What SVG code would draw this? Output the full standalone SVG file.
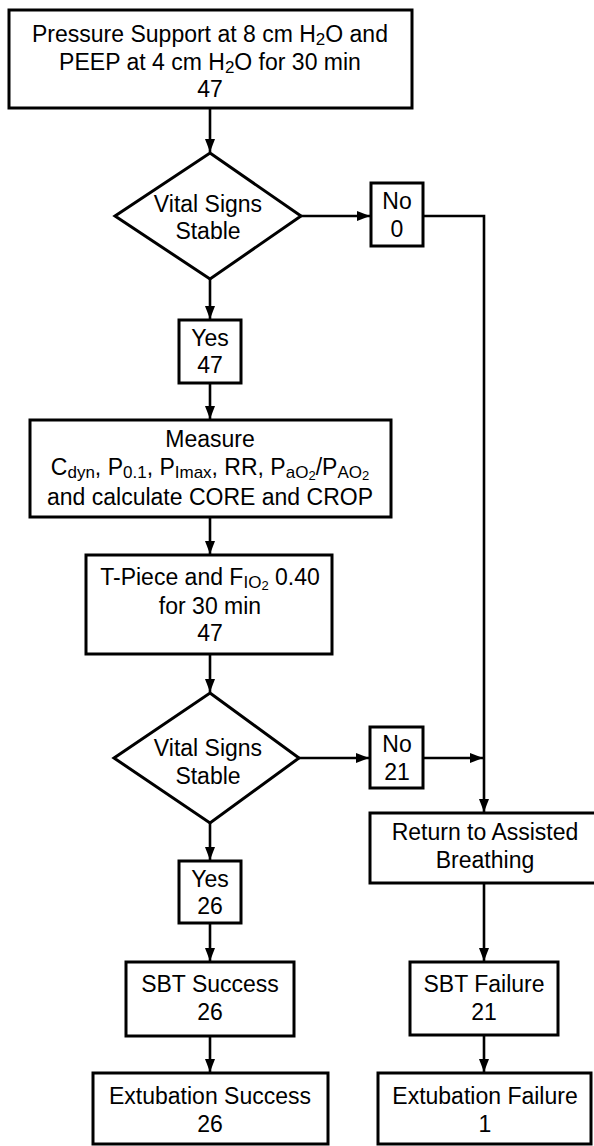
<svg xmlns="http://www.w3.org/2000/svg" width="594" height="1146" viewBox="0 0 594 1146">
<defs>
<style>
.box{fill:#fff;stroke:#000;stroke-width:3}
.ln{fill:none;stroke:#000;stroke-width:2.6}
text{font-family:"Liberation Sans",Arial,sans-serif;font-size:23px;fill:#000;text-anchor:middle}
.s{font-size:17px}
.ss{font-size:13px}
</style>
<marker id="ah" markerUnits="userSpaceOnUse" markerWidth="14" markerHeight="11" refX="13" refY="5" orient="auto">
<path d="M0,0 L13,5 L0,10 z" fill="#000"/>
</marker>
</defs>
<rect width="594" height="1146" fill="#fff"/>
<g id="connectors">
<line class="ln" x1="210" y1="108" x2="210" y2="152" marker-end="url(#ah)"/>
<line class="ln" x1="300" y1="216" x2="370" y2="216" marker-end="url(#ah)"/>
<polyline class="ln" points="423,216 484,216 484,812" marker-end="url(#ah)"/>
<line class="ln" x1="210" y1="279" x2="210" y2="319" marker-end="url(#ah)"/>
<line class="ln" x1="210" y1="383" x2="210" y2="419" marker-end="url(#ah)"/>
<line class="ln" x1="210" y1="517" x2="210" y2="554" marker-end="url(#ah)"/>
<line class="ln" x1="210" y1="654" x2="210" y2="692" marker-end="url(#ah)"/>
<line class="ln" x1="298" y1="758" x2="369" y2="758" marker-end="url(#ah)"/>
<line class="ln" x1="423" y1="758" x2="483" y2="758" marker-end="url(#ah)"/>
<line class="ln" x1="210" y1="823" x2="210" y2="860" marker-end="url(#ah)"/>
<line class="ln" x1="210" y1="923" x2="210" y2="961" marker-end="url(#ah)"/>
<line class="ln" x1="210" y1="1036" x2="210" y2="1072" marker-end="url(#ah)"/>
<line class="ln" x1="484" y1="883" x2="484" y2="961" marker-end="url(#ah)"/>
<line class="ln" x1="484" y1="1035" x2="484" y2="1072" marker-end="url(#ah)"/>
</g>
<g id="n-start">
<rect class="box" x="9" y="10" width="403" height="98"/>
<text x="210" y="42">Pressure Support at 8 cm H<tspan class="s" dy="3">2</tspan><tspan dy="-3">O and</tspan></text>
<text x="210" y="70">PEEP at 4 cm H<tspan class="s" dy="3">2</tspan><tspan dy="-3">O for 30 min</tspan></text>
<text x="210" y="97">47</text>
</g>
<g id="n-vital1">
<polygon class="box" points="210,153 301,216 210,279 115,216"/>
<text x="208" y="212">Vital Signs</text>
<text x="208" y="239">Stable</text>
</g>
<g id="n-no0">
<rect class="box" x="371" y="183" width="52" height="63"/>
<text x="397" y="209">No</text>
<text x="397" y="237">0</text>
</g>
<g id="n-yes47">
<rect class="box" x="179" y="320" width="62" height="63"/>
<text x="210" y="346">Yes</text>
<text x="210" y="373">47</text>
</g>
<g id="n-measure">
<rect class="box" x="30" y="420" width="361" height="97"/>
<text x="210" y="447">Measure</text>
<text x="210" y="475">C<tspan class="s" dy="3">dyn</tspan><tspan dy="-3">, P</tspan><tspan class="s" dy="3">0.1</tspan><tspan dy="-3">, P</tspan><tspan class="s" dy="3">Imax</tspan><tspan dy="-3">, RR, P</tspan><tspan class="s" dy="3">aO</tspan><tspan class="ss" dy="2">2</tspan><tspan dy="-5">/P</tspan><tspan class="s" dy="3">AO</tspan><tspan class="ss" dy="2">2</tspan></text>
<text x="210" y="505">and calculate CORE and CROP</text>
</g>
<g id="n-tpiece">
<rect class="box" x="86" y="555" width="246" height="99"/>
<text x="210" y="585">T-Piece and F<tspan class="s" dy="3">IO</tspan><tspan class="ss" dy="2">2</tspan><tspan dy="-5"> 0.40</tspan></text>
<text x="210" y="614">for 30 min</text>
<text x="210" y="641">47</text>
</g>
<g id="n-vital2">
<polygon class="box" points="210,693 299,758 210,823 114,758"/>
<text x="208" y="756">Vital Signs</text>
<text x="208" y="784">Stable</text>
</g>
<g id="n-no21">
<rect class="box" x="370" y="727" width="53" height="61"/>
<text x="397" y="752">No</text>
<text x="397" y="780">21</text>
</g>
<g id="n-return">
<rect class="box" x="370" y="813" width="230" height="70"/>
<text x="485" y="840">Return to Assisted</text>
<text x="485" y="868">Breathing</text>
</g>
<g id="n-yes26">
<rect class="box" x="179" y="861" width="62" height="62"/>
<text x="210" y="887">Yes</text>
<text x="210" y="914">26</text>
</g>
<g id="n-sbtsuccess">
<rect class="box" x="126" y="962" width="168" height="74"/>
<text x="210" y="992">SBT Success</text>
<text x="210" y="1020">26</text>
</g>
<g id="n-sbtfailure">
<rect class="box" x="410" y="962" width="148" height="73"/>
<text x="484" y="992">SBT Failure</text>
<text x="484" y="1020">21</text>
</g>
<g id="n-extsuccess">
<rect class="box" x="93" y="1073" width="235" height="71"/>
<text x="210" y="1104">Extubation Success</text>
<text x="210" y="1132">26</text>
</g>
<g id="n-extfailure">
<rect class="box" x="378" y="1073" width="213" height="71"/>
<text x="485" y="1104">Extubation Failure</text>
<text x="485" y="1132">1</text>
</g>
</svg>
